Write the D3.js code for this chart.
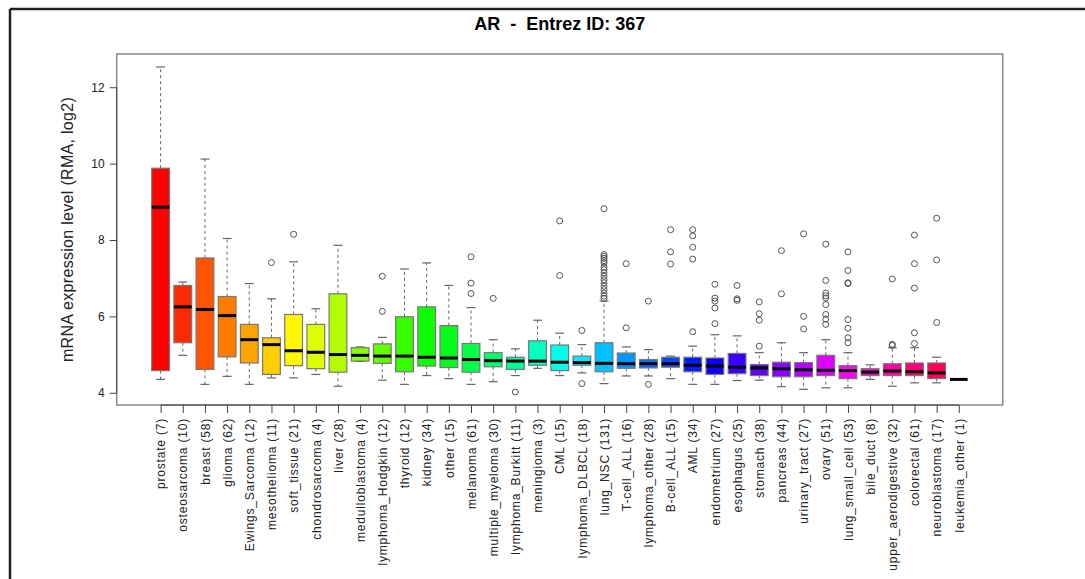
<!DOCTYPE html>
<html>
<head>
<meta charset="utf-8">
<script src="https://cdn.jsdelivr.net/npm/d3@7.9.0/dist/d3.min.js"></script>
<style>
  body { margin: 0; background: #fff; }
  svg { display: block; }
  text { font-family: "Liberation Sans", Arial, sans-serif; }
</style>
</head>
<body>
<svg id="chart" width="1085" height="579"></svg>
<script>
// **Chart data**
const categories = [
  "prostate (7)", "osteosarcoma (10)", "breast (58)", "glioma (62)", "Ewings_Sarcoma (12)",
  "mesothelioma (11)", "soft_tissue (21)", "chondrosarcoma (4)", "liver (28)", "medulloblastoma (4)",
  "lymphoma_Hodgkin (12)", "thyroid (12)", "kidney (34)", "other (15)", "melanoma (61)",
  "multiple_myeloma (30)", "lymphoma_Burkitt (11)", "meningioma (3)", "CML (15)", "lymphoma_DLBCL (18)",
  "lung_NSC (131)", "T-cell_ALL (16)", "lymphoma_other (28)", "B-cell_ALL (15)", "AML (34)",
  "endometrium (27)", "esophagus (25)", "stomach (38)", "pancreas (44)", "urinary_tract (27)",
  "ovary (51)", "lung_small_cell (53)", "bile_duct (8)", "upper_aerodigestive (32)", "colorectal (61)",
  "neuroblastoma (17)", "leukemia_other (1)"
];

const whiskerLow = [4.35, 4.98, 4.22, 4.43, 4.22, 4.39, 4.39, 4.48, 4.17, 4.82,
  4.33, 4.22, 4.45, 4.37, 4.22, 4.29, 4.45, 4.64, 4.45, 4.52,
  4.24, 4.44, 4.44, 4.37, 4.22, 4.22, 4.32, 4.33, 4.16, 4.09,
  4.13, 4.13, 4.35, 4.17, 4.26, 4.26, 4.35];
const q1 = [4.58, 5.31, 4.61, 4.94, 4.78, 4.48, 4.71, 4.63, 4.54, 4.83,
  4.77, 4.55, 4.70, 4.66, 4.54, 4.68, 4.61, 4.72, 4.58, 4.72,
  4.55, 4.64, 4.65, 4.67, 4.55, 4.48, 4.50, 4.45, 4.42, 4.42,
  4.45, 4.37, 4.45, 4.45, 4.45, 4.37, 4.35];
const median = [8.86, 6.25, 6.18, 6.02, 5.39, 5.26, 5.10, 5.06, 5.00, 4.98,
  4.96, 4.96, 4.93, 4.91, 4.87, 4.84, 4.83, 4.83, 4.80, 4.79,
  4.77, 4.76, 4.76, 4.76, 4.72, 4.70, 4.67, 4.65, 4.63, 4.60,
  4.59, 4.58, 4.54, 4.57, 4.55, 4.52, 4.35];
const q3 = [9.88, 6.81, 7.53, 6.52, 5.79, 5.44, 6.05, 5.79, 6.59, 5.18,
  5.28, 5.99, 6.25, 5.76, 5.29, 5.05, 4.93, 5.36, 5.25, 4.96,
  5.31, 5.04, 4.87, 4.93, 4.93, 4.91, 5.03, 4.74, 4.80, 4.79,
  4.98, 4.71, 4.63, 4.76, 4.78, 4.78, 4.35];
const whiskerHigh = [12.53, 6.90, 10.12, 8.04, 6.86, 6.46, 7.43, 6.20, 7.86, 5.20,
  5.45, 7.24, 7.40, 6.81, 6.23, 5.39, 5.15, 5.90, 5.56, 5.26,
  6.40, 5.20, 5.13, 4.96, 5.22, 5.52, 5.49, 5.05, 5.31, 5.05,
  5.39, 5.05, 4.73, 5.18, 5.18, 4.93, 4.35];
const outliers = [
  [], [], [], [], [],
  [7.41], [8.15], [], [], [],
  [7.05, 6.13], [], [], [], [7.56, 6.87, 6.60],
  [6.47], [4.02], [], [8.50, 7.07], [5.63, 4.24],
  [8.82, 7.62, 7.57, 7.52, 7.46, 7.40, 7.29, 7.22, 7.14, 7.05, 6.96, 6.88, 6.79, 6.70, 6.61, 6.53, 6.47],
  [7.38, 5.70], [6.40, 4.22], [8.27, 7.69, 7.37], [8.27, 8.11, 7.81, 7.50, 5.60],
  [6.84, 6.48, 6.40, 6.22, 5.81], [6.81, 6.46, 6.42], [6.38, 6.07, 5.90, 5.22], [7.72, 6.59], [8.16, 6.00, 5.67],
  [7.89, 6.94, 6.61, 6.54, 6.48, 6.31, 6.05, 5.93, 5.79],
  [7.69, 7.20, 6.88, 6.86, 5.92, 5.69, 5.44, 5.31],
  [], [6.98, 5.27, 5.24], [8.13, 7.38, 6.74, 5.57, 5.29],
  [8.57, 7.48, 5.84], []
];
const yTicks = [4, 6, 8, 10, 12];
const title = "AR  -  Entrez ID: 367";
const yTitle = "mRNA expression level (RMA, log2)";

// **Layout**
const plot = { left: 116.7, right: 1002.7, top: 54, bottom: 405 };
const svg = d3.select("#chart");

// **Scales**
let allValues = whiskerLow.concat(whiskerHigh, outliers.flat());
let vMin = d3.min(allValues), vMax = d3.max(allValues);
let pad = (vMax - vMin) * 0.04;
const y = d3.scaleLinear().domain([vMin - pad, vMax + pad]).range([plot.bottom, plot.top]);
const x = d3.scalePoint().domain(categories).range([plot.left, plot.right]).padding(1.98);
const boxW = x.step() * 0.8;
const colors = categories.map((c, i) => d3.hsl(i * 360 / categories.length, 1, 0.5).formatHex());

// **Outer frame (partial border of the figure)**
svg.append("line").attr("x1", 10).attr("x2", 1085).attr("y1", 9).attr("y2", 9)
  .attr("stroke", "#222").attr("stroke-width", 2.5);
svg.append("line").attr("x1", 10).attr("x2", 10).attr("y1", 9).attr("y2", 579)
  .attr("stroke", "#222").attr("stroke-width", 2.5);

// **Title**
svg.append("text")
  .attr("x", (plot.left + plot.right) / 2).attr("y", 30)
  .attr("text-anchor", "middle")
  .style("white-space", "pre")
  .style("font-family", "'Liberation Sans Narrow', 'Liberation Sans', Arial, sans-serif")
  .style("font-weight", "bold").style("font-size", "18px")
  .text(title);

// **Boxes**
const g = svg.append("g");
categories.forEach((cat, i) => {
  let cx = x(cat);
  // whiskers (dashed)
  g.append("line").attr("x1", cx).attr("x2", cx).attr("y1", y(q3[i])).attr("y2", y(whiskerHigh[i]))
    .attr("stroke", "#666").attr("stroke-dasharray", "3,3");
  g.append("line").attr("x1", cx).attr("x2", cx).attr("y1", y(q1[i])).attr("y2", y(whiskerLow[i]))
    .attr("stroke", "#666").attr("stroke-dasharray", "3,3");
  // staples
  [whiskerHigh[i], whiskerLow[i]].forEach(v => {
    g.append("line").attr("x1", cx - boxW / 4).attr("x2", cx + boxW / 4)
      .attr("y1", y(v)).attr("y2", y(v)).attr("stroke", "#666").attr("stroke-width", 1.2);
  });
  // box
  if (q3[i] > q1[i]) {
    g.append("rect").attr("x", cx - boxW / 2).attr("width", boxW)
      .attr("y", y(q3[i])).attr("height", y(q1[i]) - y(q3[i]))
      .attr("fill", colors[i]).attr("stroke", "#777").attr("stroke-width", 1.2);
  }
  // median
  g.append("line").attr("x1", cx - boxW / 2).attr("x2", cx + boxW / 2)
    .attr("y1", y(median[i])).attr("y2", y(median[i]))
    .attr("stroke", "#000").attr("stroke-width", 3);
  // outliers
  outliers[i].forEach(v => {
    g.append("circle").attr("cx", cx).attr("cy", y(v)).attr("r", 3)
      .attr("fill", "none").attr("stroke", "#555").attr("stroke-width", 1);
  });
});

// **Plot frame**
svg.append("rect").attr("x", plot.left).attr("y", plot.top)
  .attr("width", plot.right - plot.left).attr("height", plot.bottom - plot.top)
  .attr("fill", "none").attr("stroke", "#888").attr("stroke-width", 1.5);

// **Y axis**
const yAxis = svg.append("g").attr("transform", `translate(${plot.left},0)`)
  .call(d3.axisLeft(y).tickValues(yTicks).tickSize(7).tickPadding(5).tickSizeOuter(0));
yAxis.select(".domain").remove();
yAxis.append("line").attr("x1", 0).attr("x2", 0)
  .attr("y1", y(yTicks[0])).attr("y2", y(yTicks[yTicks.length - 1])).attr("stroke", "#444");
yAxis.selectAll(".tick line").attr("stroke", "#444");
yAxis.selectAll("text").style("font-size", "12px").attr("fill", "#222");

// **X axis**
const xAxis = svg.append("g").attr("transform", `translate(0,${plot.bottom})`)
  .call(d3.axisBottom(x).tickSize(8).tickSizeOuter(0));
xAxis.select(".domain").remove();
xAxis.append("line").attr("y1", 0).attr("y2", 0)
  .attr("x1", x(categories[0])).attr("x2", x(categories[categories.length - 1])).attr("stroke", "#444");
xAxis.selectAll(".tick line").attr("stroke", "#444");
xAxis.selectAll("text")
  .attr("transform", "rotate(-90)")
  .attr("x", -13).attr("y", 0).attr("dy", "0.35em")
  .attr("text-anchor", "end")
  .style("font-size", "12px").style("letter-spacing", "0.8px").attr("fill", "#222");

// **Y axis title**
svg.append("text")
  .attr("transform", `translate(73,${(plot.top + plot.bottom) / 2}) rotate(-90)`)
  .attr("text-anchor", "middle")
  .style("font-size", "16px").style("letter-spacing", "0.3px").attr("fill", "#222")
  .text(yTitle);
</script>
</body>
</html>
